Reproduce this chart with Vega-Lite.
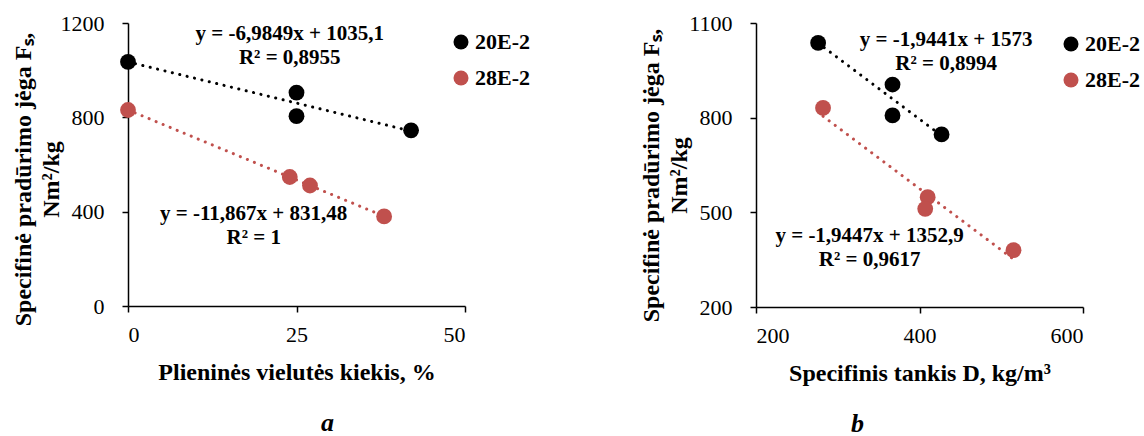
{
  "$schema": "https://vega.github.io/schema/vega-lite/v6.json",
  "padding": {"left": 11, "top": 12, "right": 0, "bottom": 0},
  "background": "white",
  "config": {
    "font": "Liberation Serif",
    "view": {"stroke": null},
    "axis": {"grid": false, "domainColor": "#000000", "domainWidth": 1.5, "tickColor": "#000000", "tickWidth": 1.5, "tickSize": 6, "labelColor": "#000000", "labelFontSize": 22, "labelFont": "Liberation Serif", "titleColor": "#000000", "titleFontSize": 24, "titleFontWeight": "bold", "titleFont": "Liberation Serif", "format": "d"},
    "axisY": {"labelPadding": 18, "titleLineHeight": 28, "titlePadding": -3},
    "axisX": {"labelPadding": 12, "titlePadding": 15},
    "legend": {"labelFontSize": 22, "labelFontWeight": "bold", "labelColor": "#000000", "labelFont": "Liberation Serif", "symbolType": "circle", "symbolSize": 225, "symbolStrokeWidth": 0, "rowPadding": 14, "labelOffset": 3},
    "title": {"font": "Liberation Serif", "fontSize": 26, "fontStyle": "italic", "fontWeight": "bold", "color": "#000000", "orient": "bottom"}
  },
  "datasets": {
    "pa": [
      {"series": "20E-2", "x": 0, "y": 1035},
      {"series": "20E-2", "x": 25, "y": 905},
      {"series": "20E-2", "x": 25, "y": 805},
      {"series": "20E-2", "x": 42, "y": 745},
      {"series": "28E-2", "x": 0, "y": 831},
      {"series": "28E-2", "x": 24, "y": 547},
      {"series": "28E-2", "x": 27, "y": 511},
      {"series": "28E-2", "x": 38, "y": 380}
    ],
    "ta": [
      {"series": "20E-2", "x": 0, "y": 1035.1},
      {"series": "20E-2", "x": 42, "y": 741.7},
      {"series": "28E-2", "x": 0, "y": 831.5},
      {"series": "28E-2", "x": 38, "y": 380.5}
    ],
    "pb": [
      {"series": "20E-2", "x": 276, "y": 1037},
      {"series": "20E-2", "x": 367, "y": 905},
      {"series": "20E-2", "x": 367, "y": 807},
      {"series": "20E-2", "x": 427, "y": 747},
      {"series": "28E-2", "x": 282, "y": 831},
      {"series": "28E-2", "x": 410, "y": 548},
      {"series": "28E-2", "x": 407, "y": 511},
      {"series": "28E-2", "x": 515, "y": 380}
    ],
    "tb": [
      {"series": "20E-2", "x": 276, "y": 1036.4},
      {"series": "20E-2", "x": 427, "y": 742.9},
      {"series": "28E-2", "x": 282, "y": 804.5},
      {"series": "28E-2", "x": 515, "y": 351.4}
    ]
  },
  "spacing": 291,
  "bounds": "flush",
  "resolve": {"scale": {"color": "independent", "x": "independent", "y": "independent"}, "legend": {"color": "independent"}},
  "hconcat": [
    {
      "width": 337,
      "height": 283,
      "title": {"text": "a", "dx": 31, "offset": 26},
      "layer": [
        {
          "data": {"name": "ta"},
          "transform": [{"filter": "datum.series == '20E-2'"}],
          "mark": {"type": "line", "color": "#000000", "strokeWidth": 3, "strokeDash": [0.1, 7.5], "strokeCap": "round"},
          "encoding": {
            "x": {"field": "x", "type": "quantitative", "scale": {"domain": [0, 50]}, "axis": {"values": [0, 25, 50], "title": "Plieninės vielutės kiekis, %"}},
            "y": {"field": "y", "type": "quantitative", "scale": {"domain": [0, 1200]}, "axis": {"values": [0, 400, 800, 1200], "title": ["Specifinė pradūrimo jėga Fₛ,", "Nm²/kg"], "titleY": 156}}
          }
        },
        {
          "data": {"name": "ta"},
          "transform": [{"filter": "datum.series == '28E-2'"}],
          "mark": {"type": "line", "color": "#C0504D", "strokeWidth": 3, "strokeDash": [0.1, 7.5], "strokeCap": "round"},
          "encoding": {
            "x": {"field": "x", "type": "quantitative"},
            "y": {"field": "y", "type": "quantitative"}
          }
        },
        {
          "data": {"name": "pa"},
          "mark": {"type": "point", "filled": true, "size": 250, "opacity": 1, "shape": "circle"},
          "encoding": {
            "x": {"field": "x", "type": "quantitative"},
            "y": {"field": "y", "type": "quantitative"},
            "color": {"field": "series", "type": "nominal", "scale": {"domain": ["20E-2", "28E-2"], "range": ["#000000", "#C0504D"]}, "legend": {"title": null, "orient": "none", "legendX": 322, "legendY": 8}}
          }
        },
        {
          "data": {"values": [{}]},
          "mark": {"type": "text", "fontSize": 21, "fontWeight": "bold", "color": "#000000", "align": "center", "baseline": "middle", "lineHeight": 24},
          "encoding": {"x": {"datum": 24.0}, "y": {"datum": 1153}, "text": {"value": ["y = -6,9849x + 1035,1", "R² = 0,8955"]}}
        },
        {
          "data": {"values": [{}]},
          "mark": {"type": "text", "fontSize": 21, "fontWeight": "bold", "color": "#000000", "align": "center", "baseline": "middle", "lineHeight": 24},
          "encoding": {"x": {"datum": 18.65}, "y": {"datum": 390}, "text": {"value": ["y = -11,867x + 831,48", "R² = 1"]}}
        }
      ]
    },
    {
      "width": 327,
      "height": 284,
      "title": {"text": "b", "dx": -62, "offset": 26},
      "layer": [
        {
          "data": {"name": "tb"},
          "transform": [{"filter": "datum.series == '20E-2'"}],
          "mark": {"type": "line", "color": "#000000", "strokeWidth": 3, "strokeDash": [0.1, 7.5], "strokeCap": "round"},
          "encoding": {
            "x": {"field": "x", "type": "quantitative", "scale": {"domain": [200, 600]}, "axis": {"values": [200, 400, 600], "title": "Specifinis tankis D, kg/m³"}},
            "y": {"field": "y", "type": "quantitative", "scale": {"domain": [200, 1100]}, "axis": {"values": [200, 500, 800, 1100], "title": ["Specifinė pradūrimo jėga Fₛ,", "Nm²/kg"], "titleY": 152}}
          }
        },
        {
          "data": {"name": "tb"},
          "transform": [{"filter": "datum.series == '28E-2'"}],
          "mark": {"type": "line", "color": "#C0504D", "strokeWidth": 3, "strokeDash": [0.1, 7.5], "strokeCap": "round"},
          "encoding": {
            "x": {"field": "x", "type": "quantitative"},
            "y": {"field": "y", "type": "quantitative"}
          }
        },
        {
          "data": {"name": "pb"},
          "mark": {"type": "point", "filled": true, "size": 250, "opacity": 1, "shape": "circle"},
          "encoding": {
            "x": {"field": "x", "type": "quantitative"},
            "y": {"field": "y", "type": "quantitative"},
            "color": {"field": "series", "type": "nominal", "scale": {"domain": ["20E-2", "28E-2"], "range": ["#000000", "#C0504D"]}, "legend": {"title": null, "orient": "none", "legendX": 304, "legendY": 10}}
          }
        },
        {
          "data": {"values": [{}]},
          "mark": {"type": "text", "fontSize": 21, "fontWeight": "bold", "color": "#000000", "align": "center", "baseline": "middle", "lineHeight": 24},
          "encoding": {"x": {"datum": 432.6}, "y": {"datum": 1045}, "text": {"value": ["y = -1,9441x + 1573", "R² = 0,8994"]}}
        },
        {
          "data": {"values": [{}]},
          "mark": {"type": "text", "fontSize": 21, "fontWeight": "bold", "color": "#000000", "align": "center", "baseline": "middle", "lineHeight": 24},
          "encoding": {"x": {"datum": 339}, "y": {"datum": 425}, "text": {"value": ["y = -1,9447x + 1352,9", "R² = 0,9617"]}}
        }
      ]
    }
  ]
}
